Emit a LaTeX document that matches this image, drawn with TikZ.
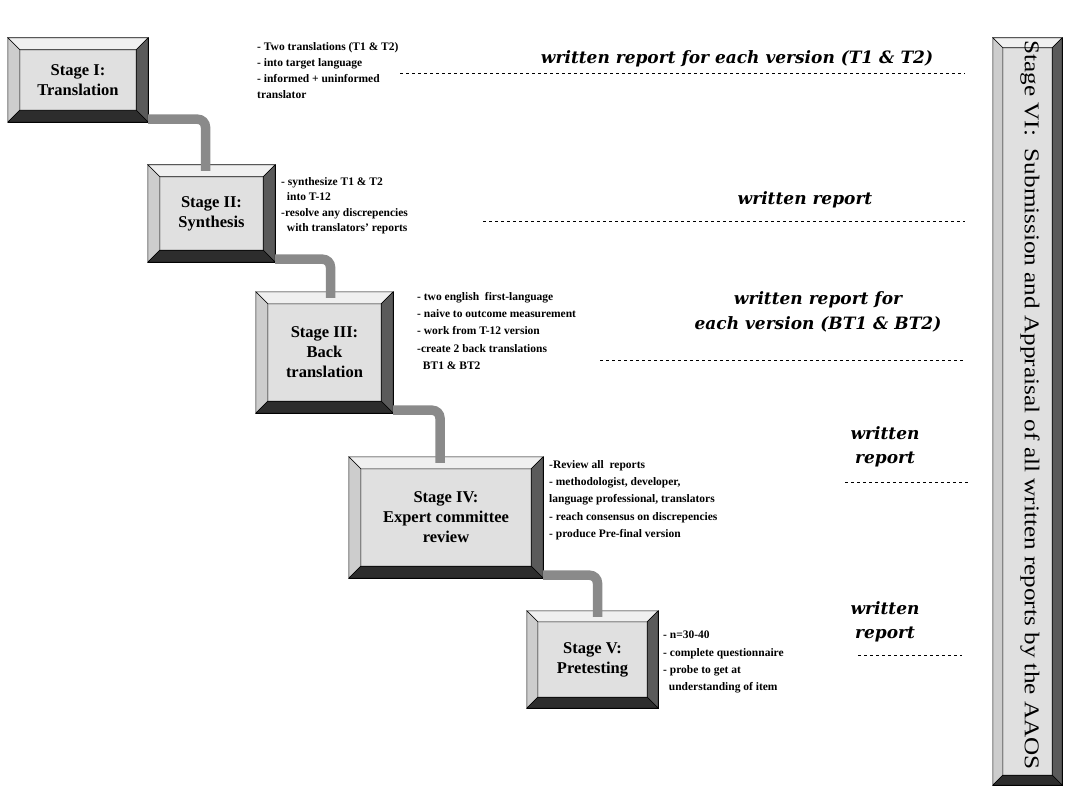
\documentclass[tikz,border=0pt]{standalone}
\usepackage{fontspec}
\setmainfont{Liberation Serif}
\newfontfamily\reportfont{DejaVu Serif}
\newfontfamily\sidefont[FakeStretch=1.2]{Liberation Serif}
\usetikzlibrary{positioning}

\definecolor{facegray}{RGB}{224,224,224}
\definecolor{topbev}{RGB}{240,240,240}
\definecolor{leftbev}{RGB}{205,205,205}
\definecolor{rightbev}{RGB}{90,90,90}
\definecolor{lowbev}{RGB}{45,45,45}
\definecolor{pipegray}{RGB}{138,138,138}

% bevelled button: name, x1, y1, x2, y2, bevel, label
\newcommand{\stagebox}[7]{%
  \node[stage, minimum width={(#4-#2)*1pt}, minimum height={(#5-#3)*1pt}]
    (#1) at ({(#2+#4)/2},{(#3+#5)/2}) {#7};
  \filldraw[bevel, fill=topbev] (#1.north west) -- (#1.north east)
    -- ([shift={(-#6pt,-#6pt)}]#1.north east) -- ([shift={(#6pt,-#6pt)}]#1.north west) -- cycle;
  \filldraw[bevel, fill=leftbev] (#1.north west) -- (#1.south west)
    -- ([shift={(#6pt,#6pt)}]#1.south west) -- ([shift={(#6pt,-#6pt)}]#1.north west) -- cycle;
  \filldraw[bevel, fill=rightbev] (#1.north east) -- (#1.south east)
    -- ([shift={(-#6pt,#6pt)}]#1.south east) -- ([shift={(-#6pt,-#6pt)}]#1.north east) -- cycle;
  \filldraw[bevel, fill=lowbev] (#1.south west) -- (#1.south east)
    -- ([shift={(-#6pt,#6pt)}]#1.south east) -- ([shift={(#6pt,#6pt)}]#1.south west) -- cycle;
}

\tikzset{
  stage/.style={draw=black, fill=facegray, inner sep=0pt, align=center,
    font=\fontsize{16.5}{20}\selectfont\bfseries},
  bevel/.style={draw=black, line width=0.6pt},
  pipe/.style={draw=pipegray, line width=9.5pt, rounded corners=8pt},
  notes/.style={anchor=north west, inner sep=0pt, align=left,
    font=\fontsize{11.5}{#1}\selectfont\bfseries},
  notes/.default=17.3,
  report/.style={align=center, font=\reportfont\fontsize{17}{24.5}\selectfont\bfseries\itshape},
  guide/.style={draw=black, line width=0.7pt, dash pattern=on 3pt off 3pt}
}

\begin{document}
\begin{tikzpicture}[x=1pt, y=-1pt]
  \useasboundingbox (0,0) rectangle (1066,789);

  \stagebox{s1}{8}{38}{148}{122}{12}{Stage I:\\Translation}
  \stagebox{s2}{148}{165}{275}{262}{12}{Stage II:\\Synthesis}
  \stagebox{s3}{256}{292}{393}{413}{12}{Stage III:\\Back\\translation}
  \stagebox{s4}{349}{457}{543}{578}{12}{Stage IV:\\Expert committee\\review}
  \stagebox{s5}{527}{611}{658}{708}{11}{Stage V:\\Pretesting}
  \stagebox{s6}{993}{38}{1062}{785}{10}{}
  \node[rotate=-90, font=\sidefont\fontsize{21}{26}\selectfont] (s6l) at (1030,405)
    {Stage VI:~~Submission and Appraisal of all written reports by the AAOS};

  \draw[pipe] ([yshift=3pt]s1.south east) -| ([xshift=-6pt, yshift=-6pt]s2.north);
  \draw[pipe] ([yshift=3pt]s2.south east) -| ([xshift=6pt, yshift=-6pt]s3.north);
  \draw[pipe] ([yshift=3pt]s3.south east) -| ([xshift=-6pt, yshift=-6pt]s4.north);
  \draw[pipe] ([yshift=3pt]s4.south east) -| ([xshift=5pt, yshift=-6pt]s5.north);

  \node[notes=16] (n1) at (257,42) {- Two translations (T1 \& T2)\\- into target language\\- informed + uninformed\\translator};
  \node[notes=15.5] (n2) at (281,177) {- synthesize T1 \& T2\\\ \ into T-12\\-resolve any discrepencies\\\ \ with translators' reports};
  \node[notes] (n3) at (417,292) {- two english~~first-language\\- naive to outcome measurement\\- work from T-12 version\\-create 2 back translations\\\ \ BT1 \& BT2};
  \node[notes] (n4) at (549,460) {-Review all~~reports\\- methodologist, developer,\\language professional, translators\\- reach consensus on discrepencies\\- produce Pre-final version};
  \node[notes] (n5) at (663,631) {- n=30-40\\- complete questionnaire\\- probe to get at\\\ \ understanding of item};

  \node[report] (r1) at (737,59) {written report for each version (T1 \& T2)};
  \node[report] (r2) at (805,200) {written report};
  \node[report] (r3) at (818,312) {written report for\\each version (BT1 \& BT2)};
  \node[report] (r4) at (885,447) {written\\report};
  \node[report] (r5) at (885,622) {written\\report};

  \coordinate (d1a) at (400,73);  \coordinate (d1b) at (965,73);
  \coordinate (d2a) at (483,221); \coordinate (d2b) at (965,221);
  \coordinate (d3a) at (600,360); \coordinate (d3b) at (965,360);
  \coordinate (d4a) at (845,482); \coordinate (d4b) at (970,482);
  \coordinate (d5a) at (858,655); \coordinate (d5b) at (962,655);
  \draw[guide] (d1a) -- (d1b);
  \draw[guide] (d2a) -- (d2b);
  \draw[guide] (d3a) -- (d3b);
  \draw[guide] (d4a) -- (d4b);
  \draw[guide] (d5a) -- (d5b);
\end{tikzpicture}
\end{document}
